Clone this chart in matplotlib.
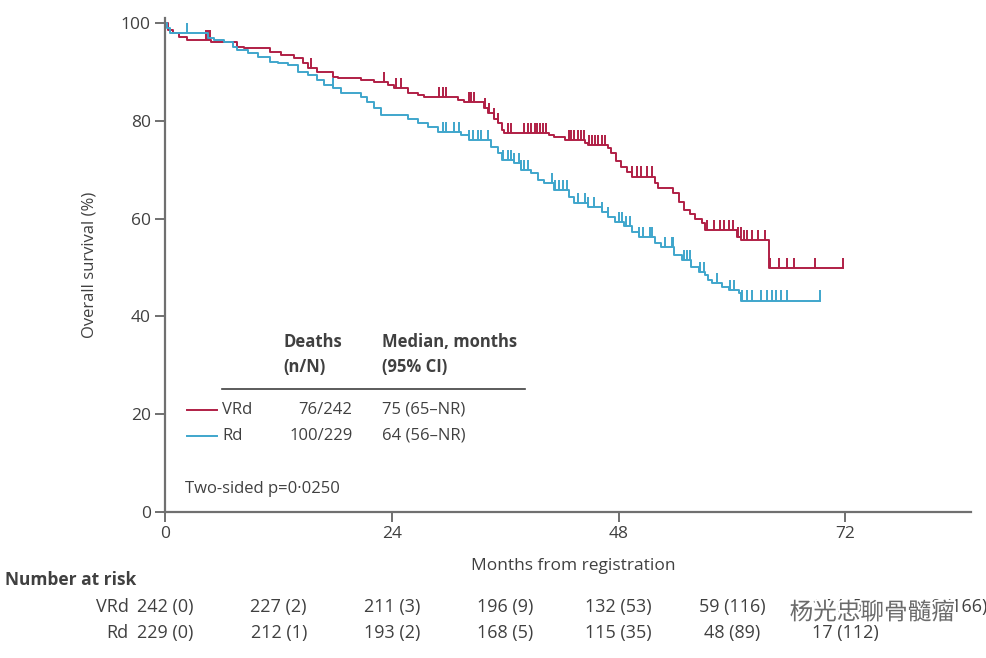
import numpy as np
import matplotlib.pyplot as plt
import matplotlib.transforms as mtransforms
import matplotlib.patheffects as pe

# Kaplan-Meier step points (months, % alive after the step)
vrd_t = [0, 0.3, 0.85, 1.4, 2.3, 4.8, 7.6, 8.3, 11.1, 12.2, 13.6, 14.6, 15.1, 16.1,
         17.8, 18.3, 20.7, 22.1, 23.6, 24.2, 25.7, 26.8, 27.4, 31.0, 31.6, 33.7,
         34.2, 34.8, 35.2, 35.6, 35.9, 40.6, 41.2, 42.3, 44.4, 44.8, 46.9, 47.2,
         47.7, 48.2, 48.9, 49.4, 51.8, 52.2, 53.8, 54.4, 54.9, 55.5, 56.1, 56.8,
         57.1, 60.5, 61.0, 63.9, 71.7]
vrd_s = [100, 98.6, 98.0, 97.2, 96.6, 96.1, 95.1, 94.9, 94.1, 93.5, 92.8, 91.8, 90.8, 90.0,
         89.0, 88.8, 88.4, 88.0, 87.3, 86.7, 85.7, 85.3, 84.9, 84.3, 83.9, 82.6,
         81.6, 80.5, 79.5, 78.1, 77.5, 77.1, 76.7, 76.1, 75.4, 75.0, 74.4, 73.4,
         71.8, 70.6, 69.6, 68.6, 67.2, 66.2, 65.2, 63.4, 61.7, 61.0, 60.0, 59.0,
         57.6, 56.2, 55.6, 49.8, 49.8]
vrd_cens = [4.3, 4.5, 4.7, 15.4, 23.1, 24.4, 24.9, 29.0, 29.4, 29.7, 32.1, 32.4, 32.7,
            33.8, 34.3, 34.8, 35.2, 36.3, 36.6, 38.0, 38.4, 38.7, 39.1, 39.4, 39.7,
            40.0, 40.3, 42.7, 43.0, 43.3, 43.7, 44.0, 44.3, 44.9, 45.2, 45.5, 45.8,
            46.2, 46.5, 49.4, 49.9, 50.4, 51.0, 51.5, 57.4, 58.1, 58.7, 59.1, 59.7,
            60.1, 60.6, 60.9, 61.3, 61.6, 62.1, 62.8, 63.5, 64.0, 65.0, 65.8, 66.6,
            68.8, 71.7]

rd_t = [0, 0.2, 0.5, 4.5, 5.1, 6.2, 7.2, 7.6, 8.7, 9.8, 11.1, 11.9, 13.0, 14.0, 15.1,
        16.1, 16.8, 17.8, 18.6, 20.7, 21.4, 22.1, 22.8, 25.7, 26.8, 27.8, 28.9,
        31.3, 32.1, 34.5, 35.2, 35.6, 36.9, 37.7, 38.7, 39.5, 40.1, 41.2, 42.7,
        43.3, 44.8, 46.2, 46.9, 47.6, 48.6, 49.4, 50.1, 51.8, 52.5, 53.9, 54.7,
        55.7, 56.5, 57.1, 57.5, 57.9, 58.9, 59.7, 60.7, 61.0, 69.3]
rd_s = [100, 99.0, 98.0, 97.0, 96.6, 96.1, 95.1, 94.5, 93.9, 93.1, 92.0, 91.8, 91.4, 90.0, 89.4,
        88.4, 87.3, 86.7, 85.7, 84.9, 83.9, 82.6, 81.2, 80.5, 79.5, 78.8, 77.7,
        77.1, 76.1, 74.6, 73.4, 72.0, 71.3, 69.9, 69.3, 67.9, 67.2, 65.8, 64.4,
        63.2, 62.4, 61.3, 60.3, 59.3, 58.5, 57.2, 56.2, 55.0, 54.2, 52.5, 51.5,
        50.1, 49.0, 48.4, 47.4, 46.8, 46.0, 45.4, 44.7, 43.2, 43.2]
rd_cens = [2.3, 17.8, 29.4, 29.7, 30.6, 31.1, 32.2, 32.6, 33.1, 33.4, 34.2, 35.8, 36.3,
           36.6, 36.9, 37.4, 37.7, 38.0, 38.4, 40.9, 41.3, 41.7, 42.1, 42.5, 43.7,
           44.4, 44.8, 45.4, 46.2, 46.9, 48.0, 48.4, 48.8, 49.2, 50.2, 50.6, 51.3,
           51.5, 52.9, 53.6, 53.8, 54.9, 55.2, 55.5, 56.6, 57.0, 58.4, 59.8, 60.2,
           61.1, 61.6, 62.1, 63.1, 63.7, 64.2, 64.7, 65.2, 65.8, 69.3]

# number at risk (censored so far)
risk_times = [0, 12, 24, 36, 48, 60, 72, 84]
vrd_risk = ["242 (0)", "227 (2)", "211 (3)", "196 (9)", "132 (53)", "59 (116)", "15 (153)", "0 (166)"]
rd_risk = ["229 (0)", "212 (1)", "193 (2)", "168 (5)", "115 (35)", "48 (89)", "17 (112)"]

groups = ["VRd", "Rd"]
deaths = ["76/242", "100/229"]
medians = ["75 (65–NR)", "64 (56–NR)"]

RED = "#b01f45"
BLUE = "#3fa6cc"
TXT = "#404040"
AXC = "#707070"

plt.rcParams['font.family'] = ['Open Sans', 'DejaVu Sans']

fig = plt.figure(figsize=(9.86, 6.58), dpi=100)
ax = fig.add_axes([0.1677, 0.2226, 0.8171, 0.7494])


def surv_at(t, s, x):
    i = np.searchsorted(t, x, side='right') - 1
    return np.asarray(s)[i]


for t, s, cens, col in [(vrd_t, vrd_s, vrd_cens, RED), (rd_t, rd_s, rd_cens, BLUE)]:
    ax.step(t, s, where='post', color=col, lw=1.4)
    cs = surv_at(np.array(t), s, np.array(cens))
    ax.vlines(cens, cs, cs + 2.1, color=col, lw=1.4)

ax.set_xlim(0, 85.3)
ax.set_ylim(0, 101)
ax.set_xticks([0, 24, 48, 72])
ax.set_yticks([0, 20, 40, 60, 80, 100])
for sp in ['top', 'right']:
    ax.spines[sp].set_visible(False)
for sp in ['left', 'bottom']:
    ax.spines[sp].set_color(AXC)
    ax.spines[sp].set_linewidth(1.6)
ax.tick_params(colors=AXC, width=1.4, length=7, labelsize=12.5, labelcolor=TXT)
ax.set_ylabel("Overall survival (%)", fontsize=12, color=TXT, labelpad=17)

# legend table
hdr = dict(fontsize=12, color=TXT, fontweight='bold', va='center', clip_on=False)
ax.text(12.5, 34.7, "Deaths", **hdr)
ax.text(12.5, 29.6, "(n/N)", **hdr)
ax.text(22.9, 34.7, "Median, months", **hdr)
ax.text(22.9, 29.6, "(95% CI)", **hdr)
ax.plot([6.0, 38.1], [25.1, 25.1], color=TXT, lw=1.2)
rows_y = [20.8, 15.5]
for g, d, m, col, y in zip(groups, deaths, medians, [RED, BLUE], rows_y):
    ax.plot([2.3, 5.5], [y, y], color=col, lw=1.4)
    ax.text(6.0, y, g, fontsize=12, color=TXT, va='center')
    ax.text(19.8, y, d, fontsize=12, color=TXT, va='center', ha='right')
    ax.text(22.9, y, m, fontsize=12, color=TXT, va='center')
ax.text(2.1, 4.6, "Two-sided p=0·0250", fontsize=12, color=TXT, va='center')

# x label and risk table
fig.text(573 / 986, 1 - 566 / 658, "Months from registration", fontsize=12.5,
         color=TXT, ha='center', va='center')
fig.text(5 / 986, 1 - 580 / 658, "Number at risk", fontsize=12.5, color=TXT,
         fontweight='bold', ha='left', va='center')
tr = mtransforms.blended_transform_factory(ax.transData, fig.transFigure)
for g, vals, yf in [("VRd", vrd_risk, 1 - 607 / 658), ("Rd", rd_risk, 1 - 633 / 658)]:
    ax.text(-3.9, yf, g, transform=tr, fontsize=13, color=TXT, ha='right',
            va='center')
    for x, v in zip(risk_times, vals):
        ax.text(x, yf, v, transform=tr, fontsize=13, color=TXT, ha='center',
                va='center')

# watermark
fig.text(955 / 986, 1 - 613 / 658, "杨光忠聊骨髓瘤", fontsize=17, color="#6a6a6a",
         ha='right', va='center', family=['Noto Sans CJK SC', 'DejaVu Sans'],
         path_effects=[pe.withStroke(linewidth=3, foreground='white')])

fig.savefig("out.png", dpi=100)
